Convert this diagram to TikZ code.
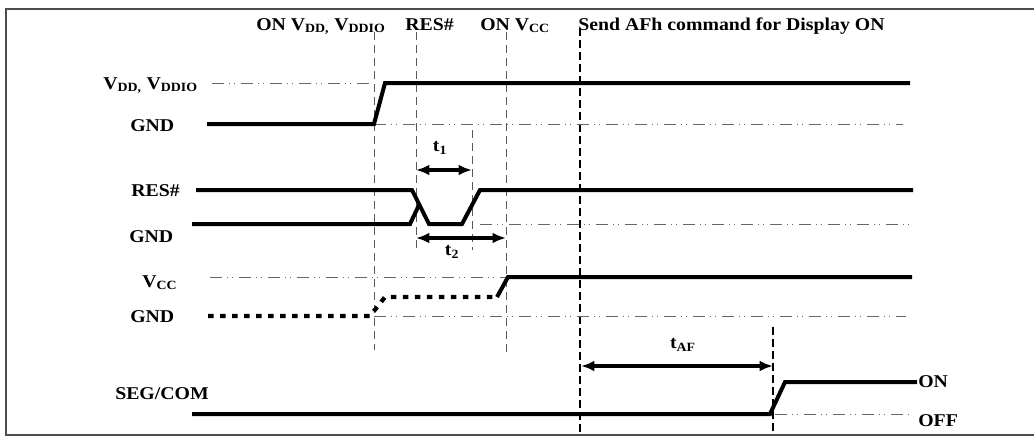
\documentclass[tikz,border=0pt]{standalone}
\usepackage{fontspec}
\setmainfont{Liberation Serif}[FakeStretch=1.1]
\usetikzlibrary{arrows.meta}

\tikzset{
  sig/.style={line width=3pt, line join=miter},
  sigdot/.style={line width=3.2pt, dash pattern=on 4.2pt off 4.8pt},
  lvl/.style={line width=0.6pt, black!60, dash pattern=on 9pt off 3.75pt on 0.75pt off 3pt on 0.75pt off 4.5pt},
  vthin/.style={line width=0.7pt, black!65, dash pattern=on 6pt off 3.75pt},
  vthick/.style={line width=2pt, dash pattern=on 6pt off 3pt},
  tspan/.style={line width=2.3pt, {Latex[length=10pt,width=8pt]}-{Latex[length=10pt,width=8pt]}},
  lbl/.style={inner sep=0pt, font=\fontsize{13.5}{16}\selectfont\bfseries},
}

\begin{document}
\begin{tikzpicture}[x=0.75pt,y=0.75pt,yscale=-1,xscale=1]
	\useasboundingbox (0,0) rectangle (1034,437);
	% frame
	\draw [line width=1.5pt, black!70] (1034,9) -- (6,9) -- (6,435) -- (1034,435);
	% event markers
	\draw [vthin] (374,32) -- (374,350);
	\draw [vthin] (416,32) -- (416,248);
	\draw [vthin] (472,130) -- (472,250);
	\draw [vthin] (506,32) -- (506,357);
	\draw [vthick] (580,28) -- (580,432);
	\draw [vthick] (773,327) -- (773,432);
	% level lines
	\draw [lvl] (212,83) -- (374,83);
	\draw [lvl] (374,124) -- (903,124);
	\draw [lvl] (480,224) -- (912,224);
	\draw [lvl] (210,277) -- (506,277);
	\draw [lvl] (374,316) -- (906,316);
	\draw [lvl] (775,414) -- (910,414);
	% waveforms
	\draw [sig] (207,124) -- (374,124) -- (385,83) -- (910,83);
	\draw [sig] (196,190) -- (412,190) -- (429,224) -- (462,224) -- (480,190) -- (913,190);
	\draw [sig] (192,224) -- (410,224) -- (419,205);
	\draw [sigdot] (208,316) -- (370,316) -- (385,297) -- (497,297);
	\draw [sig] (497,297) -- (508,277) -- (912,277);
	\draw [sig] (192,414) -- (770,414) -- (785,382) -- (917,382);
	% timing spans
	\coordinate (t1l) at (416,170);
	\coordinate (t1r) at (472,170);
	\coordinate (t2l) at (416,238);
	\coordinate (t2r) at (506,238);
	\coordinate (tafl) at (581,366);
	\coordinate (tafr) at (773,366);
	\draw [tspan] (t1l) -- (t1r);
	\draw [tspan] (t2l) -- (t2r);
	\draw [tspan] (tafl) -- (tafr);
	\node (t1) [lbl] at (440,148) {t\textsubscript{1}};
	\node (t2) [lbl] at (452,252) {t\textsubscript{2}};
	\node (taf) [lbl] at (683,345) {t\textsubscript{AF}};
	% top labels
	\node (onvdd) [lbl, anchor=base west] at (256,30) {ON V\textsubscript{DD,} V\textsubscript{DDIO}};
	\node (resev) [lbl, anchor=base west] at (405,30) {RES\#};
	\node (onvcc) [lbl, anchor=base west] at (480,30) {ON V\textsubscript{CC}};
	\node (afh) [lbl, anchor=base west] at (578,30) {Send AFh command for Display ON};
	% signal names
	\node (vdd) [lbl, anchor=base west] at (103,89) {V\textsubscript{DD,} V\textsubscript{DDIO}};
	\node (gnda) [lbl, anchor=base west] at (130,131) {GND};
	\node (res) [lbl, anchor=base west] at (131,196) {RES\#};
	\node (gndb) [lbl, anchor=base west] at (129,242) {GND};
	\node (vcc) [lbl, anchor=base west] at (142,287) {V\textsubscript{CC}};
	\node (gndc) [lbl, anchor=base west] at (130,322) {GND};
	\node (seg) [lbl, anchor=base west] at (115,399) {SEG/COM};
	\node (on) [lbl, anchor=base west] at (918,387) {ON};
	\node (off) [lbl, anchor=base west] at (918,426) {OFF};
\end{tikzpicture}
\end{document}
